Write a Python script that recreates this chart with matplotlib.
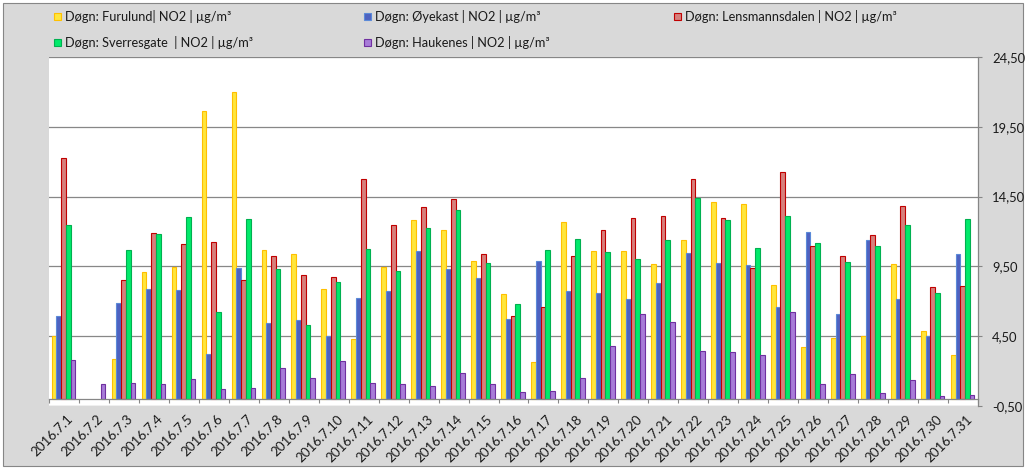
import numpy as np
import matplotlib
matplotlib.use("Agg")
import matplotlib.pyplot as plt
from matplotlib.patches import Rectangle
import matplotlib.transforms as mtransforms

plt.rcParams['font.family'] = ['Lato', 'DejaVu Sans']

nan = np.nan
days = ["2016.7.%d" % d for d in range(1, 32)]

furulund = [4.50, nan, 2.86, 9.09, 9.45, 20.62, 21.98, 10.67, 10.38, 7.88, 4.30, 9.45, 12.82, 12.10, 9.88, 7.52,
            2.65, 12.67, 10.60, 10.60, 9.67, 11.38, 14.11, 13.96, 8.16, 3.72, 4.37, 4.51, 9.67, 4.87, 3.15]
oyekast = [5.94, nan, 6.87, 7.88, 7.80, 3.22, 9.38, 5.44, 5.66, 4.51, 7.23, 7.73, 10.60, 9.31, 8.66, 5.73,
           9.88, 7.73, 7.59, 7.16, 8.31, 10.45, 9.74, 9.59, 6.59, 11.96, 6.09, 11.38, 7.16, 4.51, 10.38]
lensmannsdalen = [17.26, nan, 8.52, 11.89, 11.10, 11.24, 8.52, 10.24, 8.88, 8.74, 15.75, 12.46, 13.75, 14.32, 10.38, 5.94,
                  6.59, 10.24, 12.10, 12.96, 13.10, 15.75, 12.96, 9.38, 16.25, 10.95, 10.24, 11.74, 13.82, 8.02, 8.09]
sverresgate = [12.46, nan, 10.67, 11.81, 13.03, 6.23, 12.89, 9.31, 5.30, 8.38, 10.74, 9.16, 12.24, 13.53, 9.74, 6.80,
               10.67, 11.46, 10.53, 10.02, 11.38, 14.39, 12.82, 10.81, 13.10, 11.17, 9.81, 10.95, 12.46, 7.59, 12.89]
haukenes = [2.79, 1.07, 1.15, 1.07, 1.43, 0.72, 0.79, 2.22, 1.50, 2.72, 1.15, 1.07, 0.93, 1.86, 1.07, 0.50,
            0.57, 1.50, 3.79, 6.09, 5.51, 3.44, 3.37, 3.15, 6.23, 1.07, 1.79, 0.43, 1.36, 0.21, 0.29]

labels = ["Døgn: Furulund| NO2 | µg/m³", "Døgn: Øyekast | NO2 | µg/m³",
          "Døgn: Lensmannsdalen | NO2 | µg/m³", "Døgn: Sverresgate  | NO2 | µg/m³",
          "Døgn: Haukenes | NO2 | µg/m³"]
series = [furulund, oyekast, lensmannsdalen, sverresgate, haukenes]
faces = ['#ffe63c', '#4e62c0', '#d6807c', '#00ea6a', '#a87cd8']
edges = ['#ffc000', '#5b8ad8', '#c00000', '#00b050', '#7030a0']
yticks = [-0.5, 4.5, 9.5, 14.5, 19.5, 24.5]

W, H = 1026, 468
fig = plt.figure(figsize=(W / 100, H / 100), dpi=100, facecolor='white')
fig.patches.append(Rectangle((3 / W, 2 / H), 1020 / W, 463 / H, transform=fig.transFigure,
                             facecolor='#d9d9d9', edgecolor='#868686', lw=0.8, zorder=-10))

ax = fig.add_axes([49 / W, (H - 406) / H, (978 - 49) / W, (406 - 57) / H])
ax.set_facecolor('white')

x = np.arange(len(days))
bw = 0.158
for i, (vals, fc, ec) in enumerate(zip(series, faces, edges)):
    ax.bar(x + (i - 2) * bw - 0.013, vals, width=bw, color=fc, edgecolor=ec, linewidth=0.8, zorder=3)

ax.set_xlim(-0.5, len(days) - 0.5)
ax.set_ylim(-0.5, 24.5)

# y axis on right
ax.yaxis.tick_right()
ax.set_yticks(yticks)
ax.set_yticklabels([("%.2f" % v).replace('.', ',') for v in yticks], fontsize=9.4, color='#1a1a1a')
ax.tick_params(axis='y', direction='out', length=3, width=0.8, color='#868686', pad=7)
ax.yaxis.grid(True, color='#878787', lw=0.9, zorder=1)
ax.set_axisbelow(True)

for s in ['left', 'top']:
    ax.spines[s].set_visible(False)
ax.spines['right'].set_color('#868686')
ax.spines['right'].set_linewidth(0.9)
ax.spines['bottom'].set_position(('data', 0))
ax.spines['bottom'].set_color('#868686')
ax.spines['bottom'].set_linewidth(0.9)
ax.spines['bottom'].set_zorder(4)

# category boundaries as major ticks, labels on minor ticks at centers
ax.set_xticks(np.arange(len(days) + 1) - 0.5)
ax.set_xticklabels([])
ax.tick_params(axis='x', which='major', direction='out', length=3, width=0.8, color='#868686')
ax.set_xticks(x, minor=True)
ax.set_xticklabels(days, minor=True, rotation=45, ha='right', va='top', rotation_mode='anchor',
                   fontsize=9.6, color='#1a1a1a')
ax.tick_params(axis='x', which='minor', length=0, pad=10)
offset = mtransforms.ScaledTranslation(3 / 100, 0, fig.dpi_scale_trans)
for lab in ax.get_xticklabels(minor=True):
    lab.set_transform(lab.get_transform() + offset)

# legend drawn by hand in pixel positions
pos = [(54, 16.5), (364, 16.5), (674, 16.5), (54, 42.5), (364, 42.5)]
for (px, py), lab, fc, ec in zip(pos, labels, faces, edges):
    fig.patches.append(Rectangle((px / W, (H - py - 3.5) / H), 7 / W, 7 / H, transform=fig.transFigure,
                                 facecolor=fc, edgecolor=ec, lw=0.8))
    fig.text((px + 11) / W, (H - py) / H, lab, fontsize=9.2, va='center', ha='left', color='#1a1a1a')

fig.savefig('out.png', dpi=100, facecolor=fig.get_facecolor())
